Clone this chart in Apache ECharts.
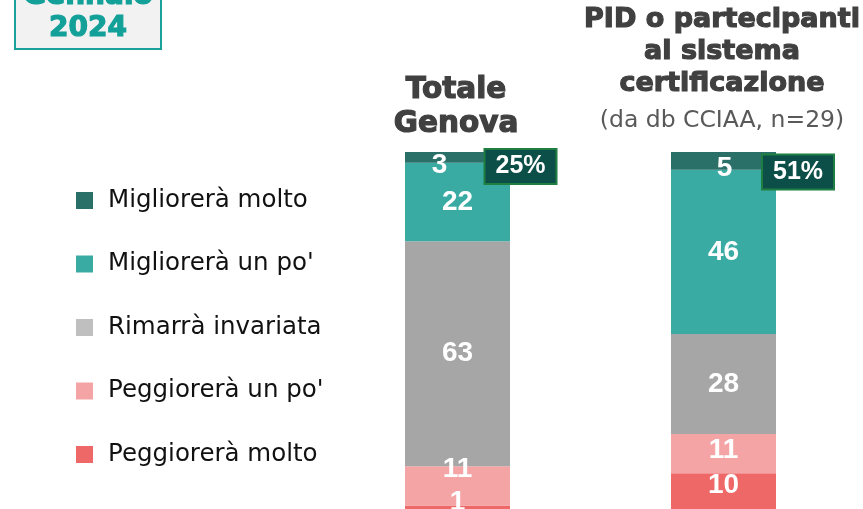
<!DOCTYPE html>
<html>
<head>
<meta charset="utf-8">
<script src="https://cdn.jsdelivr.net/npm/echarts@6.0.0/dist/echarts.min.js"></script>
<style>
  html, body { margin: 0; padding: 0; background: #fff; }
  #chart { width: 863px; height: 509px; }
</style>
</head>
<body>
<div id="chart"></div>
<script>
var categories = ['Totale Genova', 'PID o partecipanti al sistema certificazione'];
var miglioreraMolto = [3, 5];
var miglioreraUnPo = [22, 46];
var rimarraInvariata = [63, 28];
var peggioreraUnPo = [11, 11];
var peggioreraMolto = [1, 10];
var totaleMigliora = [25, 51];

document.addEventListener('DOMContentLoaded', function () {
    var chartDom = document.getElementById('chart');
    var myChart = echarts.init(chartDom, null, { renderer: 'canvas' });

    var barFont = '"Liberation Sans", Arial, sans-serif';

    // label offsets, one per bar (style only)
    function items(values, offsets) {
        return values.map(function (v, i) {
            var o = offsets ? offsets[i] : [0, 0];
            return { value: v, label: { offset: o } };
        });
    }

    function barSeries(name, values, color, offsets) {
        return {
            name: name,
            type: 'bar',
            stack: 'tot',
            barWidth: 105,
            data: items(values, offsets),
            itemStyle: { color: color },
            label: {
                show: true,
                position: 'inside',
                color: '#fff',
                fontFamily: barFont,
                fontWeight: 'bold',
                fontSize: 28
            },
            silent: true
        };
    }

    var heavy = function (size) {
        return 'bold ' + size + 'px "DejaVu Sans", sans-serif';
    };

    var option = {
        animation: false,
        grid: { left: 324.5, right: 6.5, top: 152, height: 360 },
        xAxis: {
            type: 'category',
            data: categories,
            show: false
        },
        yAxis: {
            type: 'value',
            min: 0,
            max: 100,
            show: false
        },
        legend: {
            orient: 'vertical',
            left: 76,
            top: 188,
            padding: 0,
            itemWidth: 17,
            itemHeight: 17,
            itemGap: 38.5,
            selectedMode: false,
            icon: 'rect',
            textStyle: {
                fontFamily: '"DejaVu Sans", sans-serif',
                fontSize: 24.5,
                lineHeight: 25,
                color: '#111',
                padding: [0, 0, 0, 10]
            },
            data: [
                { name: 'Migliorerà molto' },
                { name: 'Migliorerà un po\'' },
                { name: 'Rimarrà invariata', itemStyle: { color: '#bfbfbf' } },
                { name: 'Peggiorerà un po\'' },
                { name: 'Peggiorerà molto' }
            ]
        },
        graphic: [
            {
                type: 'rect',
                shape: { x: 15, y: -40, width: 146, height: 89 },
                style: { fill: '#f2f2f2', stroke: '#1aa19b', lineWidth: 2 }
            },
            {
                type: 'text',
                x: 88,
                y: 13,
                style: {
                    text: 'Gennaio\n2024',
                    fill: '#12a099',
                    stroke: '#12a099',
                    lineWidth: 1.2,
                    font: heavy(28),
                    lineHeight: 32,
                    align: 'center',
                    verticalAlign: 'middle'
                }
            },
            {
                type: 'text',
                x: 456,
                y: 107,
                style: {
                    text: 'Totale\nGenova',
                    fill: '#404040',
                    stroke: '#404040',
                    lineWidth: 1.2,
                    font: heavy(29.5),
                    lineHeight: 34,
                    align: 'center',
                    verticalAlign: 'middle'
                }
            },
            {
                type: 'text',
                x: 722,
                y: 52,
                style: {
                    text: 'PID o partecipanti\nal sistema\ncertificazione',
                    fill: '#404040',
                    stroke: '#404040',
                    lineWidth: 1.2,
                    font: heavy(27),
                    lineHeight: 32,
                    align: 'center',
                    verticalAlign: 'middle'
                }
            },
            {
                type: 'text',
                x: 722,
                y: 121,
                style: {
                    text: '(da db CCIAA, n=29)',
                    fill: '#595959',
                    font: '23.5px "DejaVu Sans", sans-serif',
                    align: 'center',
                    verticalAlign: 'middle'
                }
            }
        ],
        series: [
            barSeries('Peggiorerà molto', peggioreraMolto, '#ee6868', [[0, -5], [0, -6]]),
            barSeries('Peggiorerà un po\'', peggioreraUnPo, '#f4a4a4', [[0, -17], [0, -3]]),
            barSeries('Rimarrà invariata', rimarraInvariata, '#a6a6a6'),
            barSeries('Migliorerà un po\'', miglioreraUnPo, '#3aaba3'),
            barSeries('Migliorerà molto', miglioreraMolto, '#2a7069', [[-18, 8], [1, 7]]),
            {
                name: 'totale',
                type: 'scatter',
                symbolSize: 0,
                silent: true,
                z: 10,
                itemStyle: { opacity: 1 },
                data: totaleMigliora.map(function (t, i) {
                    return {
                        value: [i, 100],
                        label: { offset: i === 0 ? [63, 14.5] : [74.5, 20] }
                    };
                }),
                label: {
                    show: true,
                    position: 'inside',
                    formatter: function (p) { return totaleMigliora[p.dataIndex] + '%'; },
                    color: '#fff',
                    fontFamily: barFont,
                    fontWeight: 'bold',
                    fontSize: 25,
                    lineHeight: 26,
                    backgroundColor: '#0c4e48',
                    borderColor: '#1f7f42',
                    borderWidth: 2,
                    padding: [4, 10, 3, 10]
                }
            }
        ]
    };

    option && myChart.setOption(option);
});
</script>
</body>
</html>
